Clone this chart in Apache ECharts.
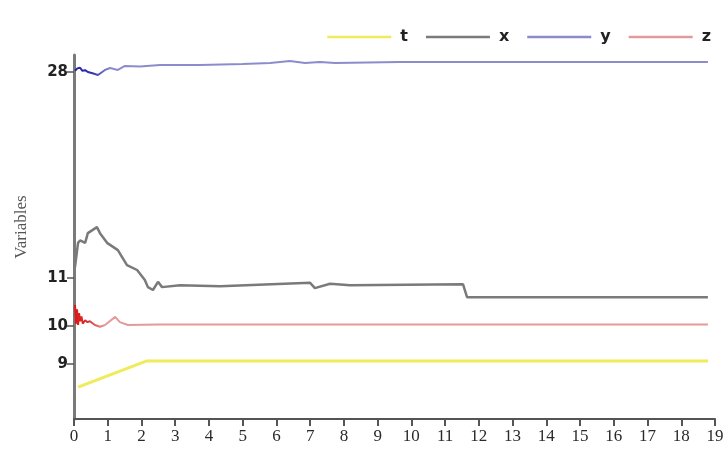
<!DOCTYPE html>
<html>
<head>
<meta charset="utf-8">
<script src="https://cdn.jsdelivr.net/npm/echarts@6/dist/echarts.min.js"></script>
<style>
  html, body { margin: 0; padding: 0; background: #ffffff; }
  #chart { width: 727px; height: 456px; }
</style>
</head>
<body>
<div id="chart"></div>
<script>
// ---------- data ----------
const xTickLabels = [0,1,2,3,4,5,6,7,8,9,10,11,12,13,14,15,16,17,18,19];
const yTickLabels = [9, 10, 11, 28];
const seriesNames = ['t', 'x', 'y', 'z'];

const tTime = [0.12, 2.16, 18.79];
const tVal  = [8.39, 9.08, 9.08];

const xTime = [0.03, 0.12, 0.18, 0.33, 0.41, 0.68, 0.77, 0.98, 1.30, 1.57, 1.87, 2.10, 2.19, 2.34, 2.49, 2.61, 3.14, 4.33, 7.00, 7.14, 7.59, 8.18, 11.53, 11.65, 18.79];
const xVal  = [11.9, 13.9, 14.1, 13.9, 14.7, 15.2, 14.7, 13.9, 13.3, 12.07, 11.66, 10.96, 10.81, 10.75, 10.92, 10.81, 10.85, 10.83, 10.9, 10.79, 10.88, 10.85, 10.87, 10.6, 10.6];

const yTime = [0.03, 0.10, 0.18, 0.25, 0.33, 0.41, 0.55, 0.71, 0.92, 1.07, 1.30, 1.51, 1.96, 2.55, 3.73, 5.00, 5.81, 6.40, 6.85, 7.29, 7.74, 9.66, 18.79];
const yVal  = [28.1, 28.3, 28.35, 28.1, 28.15, 28.0, 27.9, 27.75, 28.17, 28.33, 28.17, 28.5, 28.45, 28.58, 28.58, 28.65, 28.75, 28.91, 28.74, 28.83, 28.74, 28.83, 28.83];

const zTime = [0.03, 0.06, 0.09, 0.12, 0.15, 0.18, 0.22, 0.26, 0.33, 0.40, 0.47, 0.62, 0.77, 0.92, 1.22, 1.36, 1.60, 2.5, 18.79];
const zVal  = [10.44, 10.05, 10.35, 10.02, 10.27, 10.1, 10.2, 10.05, 10.12, 10.08, 10.1, 10.02, 9.98, 10.02, 10.19, 10.08, 10.02, 10.03, 10.03];

// ---------- piecewise y scale (axis is non-linear in the original) ----------
const yKnots = [[9, 55], [10, 93], [11, 141], [28, 347]];
function fwd(v) {
  let i = 0;
  if (v <= yKnots[0][0]) i = 0;
  else if (v >= yKnots[yKnots.length-1][0]) i = yKnots.length - 2;
  else { while (!(v >= yKnots[i][0] && v <= yKnots[i+1][0])) i++; }
  const a = yKnots[i], b = yKnots[i+1];
  return a[1] + (v - a[0]) * (b[1] - a[1]) / (b[0] - a[0]);
}
function inv(d) {
  let i = 0;
  if (d <= yKnots[0][1]) i = 0;
  else if (d >= yKnots[yKnots.length-1][1]) i = yKnots.length - 2;
  else { while (!(d >= yKnots[i][1] && d <= yKnots[i+1][1])) i++; }
  const a = yKnots[i], b = yKnots[i+1];
  return a[0] + (d - a[1]) * (b[0] - a[0]) / (b[1] - a[1]);
}
function pairs(ts, vs) { return ts.map((t, i) => [t, fwd(vs[i])]); }

const chart = echarts.init(document.getElementById('chart'), null, { renderer: 'canvas' });

const colT = '#efeb5a', colX = '#7a7a7a', colY = '#8c8ccc', colZ = '#e59a9a';

const option = {
  animation: false,
  backgroundColor: '#ffffff',
  grid: { left: 74, right: 12, top: 55, bottom: 37 },
  legend: {
    top: 24, right: 11,
    icon: 'rect',
    itemWidth: 64, itemHeight: 2.5, itemGap: 18,
    textStyle: { fontFamily: 'DejaVu Sans', fontSize: 16, fontWeight: 'bold', color: '#222', padding: [0, 0, 0, 4] },
    data: [
      { name: 't', itemStyle: { color: colT } },
      { name: 'x', itemStyle: { color: colX } },
      { name: 'y', itemStyle: { color: colY } },
      { name: 'z', itemStyle: { color: colZ } }
    ]
  },
  xAxis: {
    type: 'value', min: 0, max: 19, interval: 1,
    axisLine: { show: true, lineStyle: { color: '#555', width: 2 } },
    axisTick: { show: true, length: 7, lineStyle: { color: '#555', width: 2 } },
    splitLine: { show: false },
    axisLabel: {
      margin: 9, fontFamily: 'Liberation Serif', fontSize: 17, color: '#2a2a2a',
      formatter: v => String(xTickLabels[Math.round(v)])
    }
  },
  yAxis: {
    type: 'value', min: 0, max: 364,
    name: 'Variables', nameLocation: 'middle', nameGap: 44, nameRotate: 90,
    nameTextStyle: { fontFamily: 'Liberation Serif', fontSize: 17, color: '#555', padding: [0, 0, 0, 20] },
    axisLine: { show: true, lineStyle: { color: '#7a7a7a', width: 3 } },
    axisTick: { show: true, length: 7, customValues: yTickLabels.map(fwd), lineStyle: { color: '#555', width: 1.5 } },
    splitLine: { show: false },
    axisLabel: {
      margin: 6, fontFamily: 'DejaVu Sans', fontSize: 15, fontWeight: 'bold', color: '#222',
      customValues: yTickLabels.map(fwd),
      formatter: v => String(Math.round(inv(v)))
    }
  },
  series: [
    { name: 't', type: 'line', showSymbol: false, symbol: 'none', data: pairs(tTime, tVal),
      lineStyle: { color: colT, width: 3 }, itemStyle: { color: colT } },
    { name: 'x', type: 'line', showSymbol: false, symbol: 'none', data: pairs(xTime, xVal),
      lineStyle: { color: colX, width: 2.5 }, itemStyle: { color: colX } },
    { name: 'y', type: 'line', showSymbol: false, symbol: 'none', data: pairs(yTime, yVal),
      lineStyle: { width: 2, color: new echarts.graphic.LinearGradient(0, 0, 1, 0, [
        { offset: 0, color: '#1c1ca8' }, { offset: 0.03, color: '#3333aa' }, { offset: 0.06, color: colY }, { offset: 1, color: colY }
      ]) }, itemStyle: { color: colY } },
    { name: 'z', type: 'line', showSymbol: false, symbol: 'none', data: pairs(zTime, zVal),
      lineStyle: { width: 2, color: new echarts.graphic.LinearGradient(0, 0, 1, 0, [
        { offset: 0, color: '#dd1111' }, { offset: 0.025, color: '#dd3333' }, { offset: 0.05, color: colZ }, { offset: 1, color: colZ }
      ]) }, itemStyle: { color: colZ } }
  ]
};
chart.setOption(option);
</script>
</body>
</html>
